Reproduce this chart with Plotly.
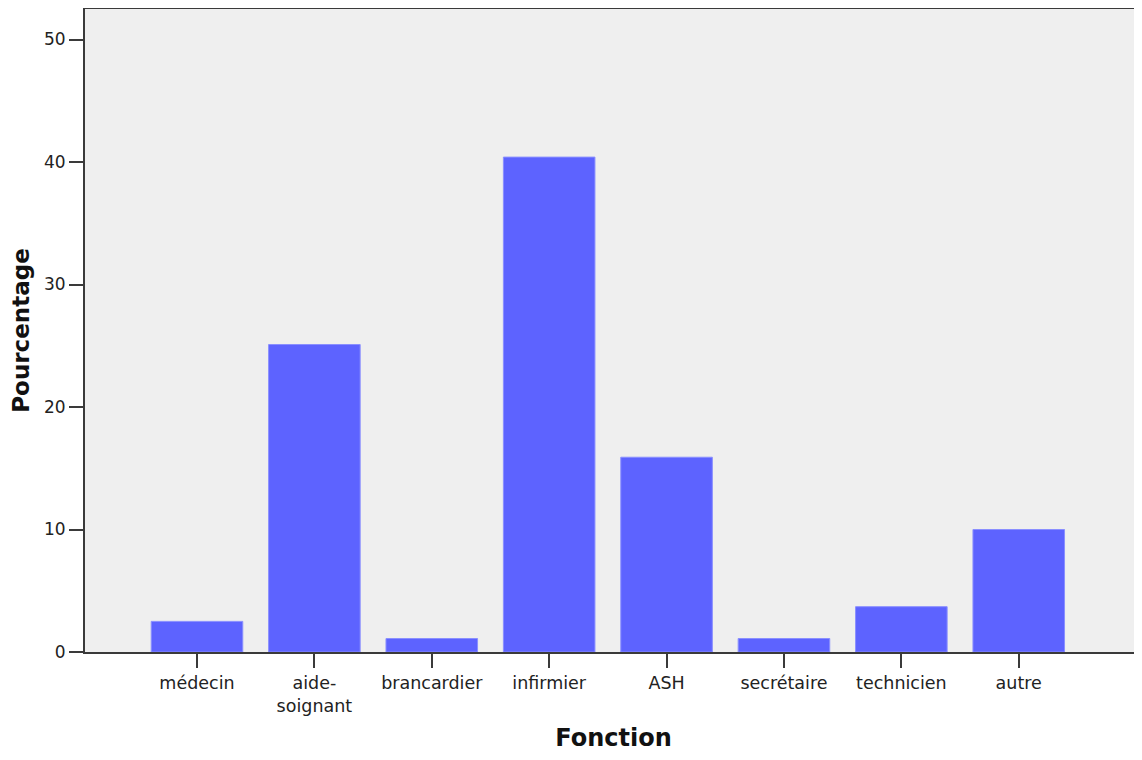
import plotly.graph_objects as go

categories = ["médecin", "aide-<br>soignant", "brancardier", "infirmier", "ASH", "secrétaire", "technicien", "autre"]
values = [2.5, 25.1, 1.1, 40.4, 15.9, 1.1, 3.7, 10.0]
y_ticks = [0, 10, 20, 30, 40, 50]

fig = go.Figure(go.Bar(
    x=list(range(len(categories))),
    y=values,
    marker=dict(color="#5d63ff", line=dict(color="#8a8fff", width=1)),
    width=0.78,
))

font_family = "DejaVu Sans, Arial, sans-serif"
# the page body adds an 8px margin, so the figure is made smaller and margins are shifted
fig.update_layout(
    width=1134, height=744,
    margin=dict(l=77, r=0, t=1, b=100),
    paper_bgcolor="white",
    plot_bgcolor="#efefef",
    showlegend=False,
    font=dict(family=font_family, size=17, color="#222"),
    xaxis=dict(
        tickmode="array",
        tickvals=list(range(len(categories))),
        ticktext=categories,
        range=[-0.954, 8.05],
        showline=True, linecolor="#3a3a3a", linewidth=2, mirror=True,
        ticks="outside", ticklen=14, tickwidth=2, tickcolor="#3a3a3a",
        showgrid=False, zeroline=False, automargin=False,
        title=dict(text="<b>Fonction</b>", font=dict(size=24, family=font_family, color="#111"), standoff=18),
        tickfont=dict(size=17.5),
    ),
    yaxis=dict(
        range=[0, 52.49],
        tickvals=y_ticks,
        showline=True, linecolor="#3a3a3a", linewidth=2,
        ticks="outside", ticklen=14, tickwidth=2, tickcolor="#3a3a3a",
        showgrid=False, zeroline=False, automargin=False,
        title=dict(text="<b>Pourcentage</b>", font=dict(size=23, family=font_family, color="#111"), standoff=13),
        tickfont=dict(size=17),
    ),
)

fig.write_html("out.html")
